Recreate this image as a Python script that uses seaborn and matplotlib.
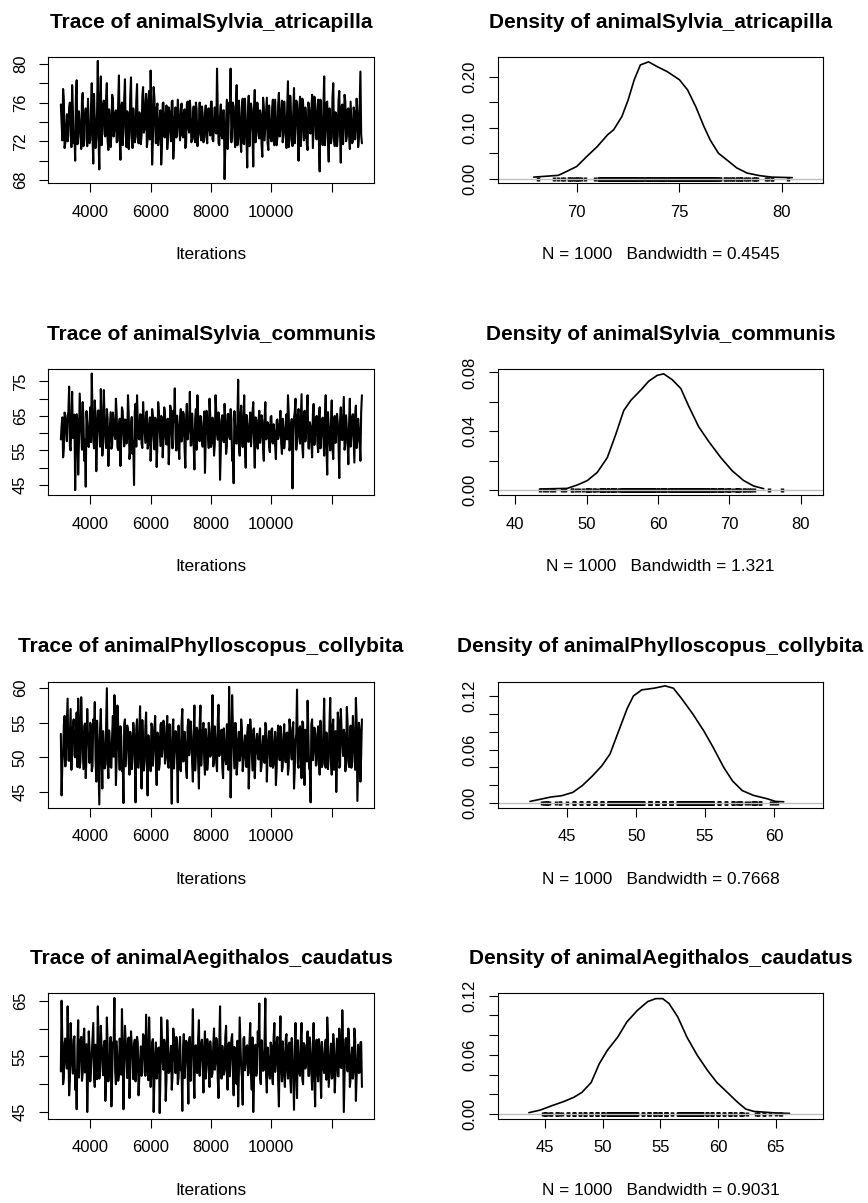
import numpy as np
import pandas as pd
import matplotlib
matplotlib.use("Agg")
import matplotlib.pyplot as plt
import seaborn as sns

# ---- data ----------------------------------------------------------------
species = ["Sylvia_atricapilla", "Sylvia_communis",
           "Phylloscopus_collybita", "Aegithalos_caudatus"]
bandwidths = ["0.4545", "1.321", "0.7668", "0.9031"]
n_samples = 1000

# trace samples read from the band: the outer samples (spikes) at every
# 50th iteration and the core samples half way between them
iterations_outer = list(range(3050, 13001, 50))
iterations_core = list(range(3025, 12976, 50))

outer_atricapilla = [
    74.0, 77.4, 71.3, 73.4, 72.0, 75.5, 74.2, 77.8, 71.8, 70.0,
    78.3, 72.4, 73.8, 71.2, 77.0, 74.5, 75.4, 71.5, 73.1, 72.1,
    78.0, 69.7, 74.1, 72.3, 80.3, 69.1, 78.7, 73.6, 76.2, 72.5,
    78.0, 71.1, 74.4, 72.7, 76.4, 73.2, 75.2, 72.0, 78.8, 70.1,
    76.0, 73.5, 78.4, 71.4, 74.7, 72.9, 78.6, 71.3, 73.9, 72.4,
    77.9, 71.8, 74.6, 72.6, 77.6, 73.3, 76.9, 72.2, 77.2, 79.3,
    69.6, 77.6, 73.7, 75.4, 71.6, 74.2, 69.6, 75.9, 72.5, 74.8,
    71.2, 75.5, 73.1, 76.1, 70.2, 74.4, 72.4, 76.3, 73.5, 75.2,
    72.6, 74.9, 71.3, 75.8, 73.4, 76.2, 71.9, 74.3, 72.3, 76.0,
    71.5, 73.8, 72.7, 75.6, 71.9, 74.6, 72.4, 75.3, 73.2, 76.1,
    72.2, 74.1, 73.0, 79.5, 71.8, 74.7, 72.6, 75.2, 68.1, 74.0,
    71.2, 76.0, 79.5, 73.6, 75.6, 71.4, 77.8, 72.3, 74.5, 70.9,
    76.4, 71.7, 74.2, 69.3, 76.7, 73.4, 75.3, 69.4, 77.3, 73.0,
    75.9, 72.3, 74.8, 70.4, 75.6, 73.5, 76.5, 71.1, 74.1, 72.0,
    76.3, 71.6, 74.0, 72.4, 77.0, 73.2, 76.2, 72.7, 74.6, 71.3,
    78.2, 72.1, 74.9, 71.5, 77.5, 73.7, 75.9, 70.0, 76.6, 73.3,
    76.0, 72.3, 74.3, 71.1, 75.5, 72.8, 76.8, 73.9, 75.9, 72.2,
    76.3, 68.9, 74.5, 71.6, 78.7, 73.1, 76.1, 69.9, 74.2, 72.4,
    78.0, 71.5, 74.7, 72.6, 77.2, 69.8, 75.8, 73.6, 76.1, 72.5,
    75.4, 71.2, 73.8, 72.0, 75.0, 73.4, 74.9, 72.3, 79.2, 71.8,
]
core_atricapilla = [
    75.8, 72.1, 76.3, 71.9, 74.8, 72.6, 76.0, 71.4, 75.2, 72.9,
    76.6, 71.7, 75.1, 72.8, 76.2, 71.5, 74.6, 72.3, 76.4, 71.8,
    75.5, 72.6, 76.9, 71.3, 75.0, 72.2, 76.1, 71.6, 75.7, 72.7,
    76.5, 72.0, 75.3, 71.4, 76.8, 72.5, 74.9, 71.9, 76.0, 72.3,
    75.6, 71.6, 76.4, 72.8, 75.1, 71.2, 76.7, 72.4, 75.4, 71.9,
    76.2, 72.5, 75.0, 71.7, 76.6, 72.9, 75.8, 71.4, 76.3, 72.2,
    75.3, 72.0, 76.5, 71.8, 75.9, 72.7, 75.2, 71.5, 76.0, 72.4,
    75.7, 72.3, 75.1, 72.0, 76.2, 71.7, 75.5, 72.6, 74.9, 72.1,
    75.9, 72.4, 75.3, 71.8, 76.1, 72.9, 75.0, 72.2, 75.6, 71.9,
    75.2, 72.7, 76.0, 72.1, 74.8, 72.5, 75.7, 71.8, 75.4, 72.6,
    76.1, 72.0, 75.5, 72.8, 74.9, 71.6, 75.8, 72.3, 75.2, 71.7,
    76.3, 72.5, 75.0, 71.9, 76.0, 72.7, 75.4, 71.6, 76.2, 72.2,
    75.6, 71.8, 76.4, 72.4, 75.1, 71.5, 75.9, 72.8, 75.3, 71.9,
    76.0, 72.6, 75.2, 71.7, 76.5, 72.1, 75.0, 71.8, 75.7, 72.4,
    75.4, 72.0, 76.3, 71.6, 75.8, 72.5, 75.1, 71.9, 76.1, 72.7,
    75.6, 71.4, 76.7, 72.3, 75.0, 71.8, 76.2, 72.6, 75.3, 71.5,
    76.4, 72.1, 75.5, 71.7, 76.0, 72.9, 75.2, 71.3, 76.6, 72.4,
    75.1, 71.9, 76.3, 72.5, 75.7, 71.6, 76.0, 72.2, 75.4, 71.8,
    76.5, 72.3, 75.0, 71.5, 76.2, 72.8, 75.6, 71.7, 76.8, 72.0,
    75.3, 72.6, 76.1, 71.8, 75.5, 72.2, 76.4, 71.4, 75.9, 72.7,
]

outer_communis = [
    62.0, 53.0, 66.0, 60.5, 64.5, 73.5, 55.0, 72.0, 59.5, 43.5,
    65.5, 48.0, 71.5, 61.0, 69.0, 52.0, 44.5, 62.5, 56.0, 67.5,
    77.3, 58.5, 69.5, 49.0, 66.5, 61.5, 72.8, 53.5, 72.5, 59.0,
    67.0, 50.5, 62.0, 55.5, 66.0, 59.5, 70.0, 56.0, 61.5, 50.5,
    67.5, 60.0, 64.0, 57.0, 71.0, 52.5, 62.5, 54.0, 45.0, 68.5,
    71.0, 58.5, 65.5, 57.0, 69.0, 60.5, 66.0, 55.5, 62.0, 52.0,
    67.0, 59.0, 64.5, 50.2, 69.0, 61.0, 65.0, 53.0, 67.5, 58.5,
    64.0, 51.0, 68.0, 60.0, 66.5, 73.0, 55.0, 62.5, 52.5, 67.0,
    59.5, 65.5, 50.0, 68.5, 61.0, 72.0, 56.5, 60.5, 49.5, 67.0,
    71.0, 58.0, 65.0, 57.5, 62.0, 48.5, 66.5, 59.5, 70.0, 56.0,
    64.5, 53.5, 71.0, 60.0, 66.0, 46.5, 63.5, 58.5, 68.5, 54.0,
    65.5, 59.5, 67.0, 52.0, 45.5, 62.0, 57.0, 75.5, 53.5, 68.0,
    56.0, 71.0, 50.0, 62.5, 57.5, 66.0, 60.0, 69.0, 50.0, 64.0,
    55.5, 66.5, 59.0, 63.5, 52.0, 69.0, 58.5, 62.5, 54.5, 65.0,
    57.0, 60.5, 52.5, 64.0, 59.5, 66.5, 54.0, 61.0, 58.0, 65.5,
    71.0, 55.0, 62.0, 44.0, 64.5, 70.0, 58.5, 67.0, 57.0, 71.3,
    53.0, 66.5, 60.0, 71.0, 55.5, 62.0, 53.0, 68.5, 59.5, 65.0,
    54.5, 67.5, 59.0, 64.5, 53.5, 71.0, 48.0, 62.0, 55.0, 69.5,
    52.5, 65.0, 60.5, 63.0, 47.0, 67.5, 58.0, 70.5, 57.0, 61.5,
    51.0, 70.0, 59.0, 65.5, 51.5, 68.0, 58.0, 61.0, 52.0, 71.0,
]
core_communis = [
    58.2, 64.6, 55.4, 65.1, 57.7, 66.3, 56.2, 64.1, 58.6, 65.4,
    56.3, 63.7, 57.1, 66.2, 55.2, 64.4, 58.1, 66.4, 56.7, 63.2,
    57.4, 65.7, 55.6, 64.2, 58.4, 66.6, 56.1, 65.2, 57.2, 63.6,
    55.7, 64.3, 57.6, 66.1, 56.4, 63.1, 58.3, 65.6, 55.1, 64.2,
    57.3, 66.4, 56.2, 63.8, 58.7, 65.1, 55.4, 64.7, 57.6, 66.2,
    56.1, 63.3, 58.2, 65.4, 55.7, 64.1, 57.2, 66.3, 56.6, 64.6,
    58.4, 65.2, 55.3, 63.7, 57.4, 66.1, 56.3, 64.4, 58.1, 65.7,
    56.7, 64.2, 57.3, 66.4, 55.6, 63.2, 58.6, 65.1, 56.2, 64.7,
    57.6, 66.2, 55.4, 64.3, 58.2, 63.4, 56.4, 65.7, 57.2, 64.1,
    55.2, 65.1, 57.7, 63.3, 56.1, 66.3, 58.4, 64.6, 55.7, 65.3,
    57.2, 63.6, 56.6, 66.2, 58.1, 64.2, 55.6, 65.2, 57.4, 63.2,
    56.2, 65.6, 58.3, 64.4, 55.3, 66.4, 57.1, 63.7, 56.4, 65.1,
    58.1, 64.2, 55.7, 65.3, 57.6, 63.1, 56.2, 66.1, 58.4, 64.6,
    56.6, 63.6, 57.2, 65.2, 55.4, 64.1, 58.2, 63.2, 56.1, 64.7,
    57.7, 62.6, 56.2, 63.7, 58.3, 62.2, 57.1, 64.2, 55.6, 63.1,
    58.2, 65.7, 56.4, 64.1, 57.2, 66.2, 55.2, 65.1, 58.6, 63.7,
    56.1, 64.6, 57.6, 66.3, 55.7, 63.2, 58.1, 65.4, 56.6, 64.2,
    57.1, 65.2, 55.6, 63.7, 58.4, 64.6, 56.2, 66.1, 57.7, 63.1,
    55.6, 64.1, 57.2, 65.6, 56.7, 63.6, 58.2, 64.7, 55.2, 65.2,
    57.6, 63.2, 56.1, 64.6, 58.6, 65.4, 55.7, 64.2, 57.1, 66.1,
]

outer_collybita = [
    44.5, 50.5, 56.0, 51.5, 58.5, 49.5, 57.0, 52.5, 55.5, 50.0,
    56.5, 58.5, 48.5, 58.7, 51.0, 54.5, 47.0, 57.0, 52.0, 55.0,
    48.0, 55.5, 58.0, 46.5, 52.5, 43.2, 57.0, 45.5, 51.5, 49.0,
    60.0, 47.0, 52.0, 48.5, 56.0, 59.0, 46.0, 57.5, 51.0, 54.5,
    48.0, 43.4, 55.5, 51.5, 54.0, 47.5, 52.5, 50.0, 53.5, 43.5,
    55.5, 48.5, 57.4, 45.5, 52.0, 49.5, 56.5, 44.5, 51.5, 48.0,
    54.5, 51.0, 56.0, 46.0, 53.0, 49.0, 55.0, 51.5, 54.5, 50.0,
    56.0, 48.5, 52.5, 43.3, 55.5, 51.0, 53.5, 43.5, 52.0, 48.0,
    57.0, 49.5, 52.0, 47.0, 55.5, 51.5, 53.0, 46.5, 57.5, 50.5,
    54.0, 45.5, 57.5, 51.0, 55.0, 47.5, 52.5, 49.5, 54.0, 50.5,
    59.0, 49.5, 52.5, 48.0, 57.6, 51.0, 54.0, 47.0, 52.0, 49.0,
    54.5, 60.2, 44.2, 59.0, 51.5, 55.0, 47.5, 52.5, 49.5, 55.5,
    48.0, 52.0, 50.0, 53.5, 45.5, 55.5, 51.0, 54.0, 47.0, 52.5,
    50.5, 53.0, 48.0, 51.5, 49.5, 55.0, 46.5, 52.5, 50.0, 54.0,
    48.5, 52.0, 46.0, 53.0, 51.0, 54.5, 48.0, 52.5, 50.0, 53.5,
    47.5, 55.5, 51.0, 54.0, 45.5, 52.5, 59.8, 48.5, 54.5, 47.0,
    55.0, 46.0, 52.0, 58.2, 48.5, 43.5, 55.5, 51.0, 53.5, 49.0,
    54.5, 47.5, 52.5, 49.0, 58.5, 48.5, 51.5, 50.0, 58.6, 47.5,
    55.5, 51.0, 45.0, 56.5, 48.5, 57.0, 52.0, 54.0, 48.0, 57.3,
    49.5, 52.5, 48.5, 56.0, 51.0, 58.6, 43.7, 55.0, 46.5, 55.5,
]
core_collybita = [
    53.4, 49.1, 54.6, 48.7, 55.1, 49.6, 53.2, 48.2, 54.3, 50.3,
    53.7, 48.6, 55.4, 49.4, 54.1, 48.3, 54.9, 50.2, 53.1, 49.2,
    54.4, 48.8, 53.6, 49.7, 55.3, 48.1, 54.2, 50.4, 53.8, 48.4,
    54.8, 49.3, 53.9, 48.6, 53.3, 50.1, 55.2, 49.8, 54.7, 48.2,
    53.1, 49.4, 54.9, 48.7, 54.6, 49.2, 53.7, 48.3, 55.0, 50.2,
    54.2, 48.6, 53.4, 49.8, 55.4, 48.1, 54.4, 49.3, 53.2, 50.4,
    54.9, 48.8, 54.1, 49.6, 53.6, 48.2, 54.7, 50.1, 55.3, 49.1,
    53.3, 48.7, 54.8, 49.2, 54.2, 48.4, 53.8, 49.7, 54.6, 48.6,
    55.1, 49.4, 53.7, 48.3, 54.4, 50.3, 55.2, 49.1, 53.2, 48.1,
    54.3, 49.2, 54.9, 48.8, 53.6, 49.6, 54.1, 48.2, 55.0, 50.1,
    53.6, 48.7, 54.5, 49.3, 55.3, 50.2, 53.1, 48.6, 54.2, 49.7,
    54.8, 48.2, 53.3, 49.8, 54.6, 48.4, 54.9, 49.1, 53.7, 50.4,
    54.1, 49.3, 53.2, 48.6, 54.7, 49.4, 53.6, 48.1, 54.2, 50.2,
    53.4, 49.7, 54.2, 48.8, 53.1, 49.2, 54.4, 50.3, 53.8, 48.7,
    54.2, 49.1, 53.7, 48.3, 54.6, 49.6, 53.3, 48.6, 54.8, 49.3,
    53.6, 48.6, 54.3, 49.7, 55.1, 48.2, 53.4, 49.2, 54.1, 50.1,
    55.2, 48.7, 54.0, 49.4, 53.7, 48.1, 54.8, 49.6, 54.3, 48.8,
    53.2, 49.8, 55.3, 48.6, 54.2, 49.1, 53.6, 48.3, 54.9, 49.4,
    54.4, 48.2, 53.8, 49.6, 55.4, 48.7, 54.1, 50.2, 53.3, 49.1,
    54.9, 48.6, 54.6, 49.3, 53.5, 48.2, 55.3, 49.7, 54.0, 50.3,
]

outer_caudatus = [
    65.0, 50.0, 57.5, 54.5, 64.0, 48.0, 61.0, 53.5, 58.0, 49.0,
    45.5, 61.5, 55.0, 58.5, 52.0, 60.0, 54.0, 45.0, 59.5, 50.5,
    55.5, 61.0, 49.5, 56.5, 64.0, 51.0, 60.5, 54.5, 57.0, 47.0,
    62.0, 50.5, 55.0, 46.0, 57.5, 65.5, 50.0, 54.0, 51.5, 56.0,
    63.5, 45.5, 60.5, 54.5, 58.0, 47.5, 59.5, 55.5, 57.0, 50.5,
    58.5, 48.0, 54.0, 51.5, 59.0, 55.0, 62.5, 52.5, 62.0, 49.5,
    57.5, 45.0, 55.5, 51.0, 56.5, 44.8, 62.0, 54.0, 58.0, 47.0,
    61.5, 52.0, 55.0, 49.0, 60.0, 54.5, 58.5, 50.0, 56.0, 52.5,
    45.2, 59.0, 54.0, 57.5, 46.5, 58.5, 55.5, 63.5, 47.5, 57.0,
    52.0, 61.5, 54.5, 58.0, 48.5, 59.5, 53.5, 57.0, 49.5, 55.5,
    52.0, 60.0, 54.0, 57.5, 47.5, 64.0, 51.0, 55.0, 52.5, 60.5,
    49.0, 57.5, 54.5, 59.0, 48.0, 55.5, 50.0, 46.0, 62.0, 53.0,
    46.3, 58.5, 54.0, 57.0, 52.0, 61.0, 49.0, 45.0, 55.5, 51.5,
    59.5, 64.5, 50.0, 55.0, 52.5, 65.4, 48.5, 54.5, 51.0, 57.0,
    50.0, 61.0, 54.0, 58.5, 46.0, 62.2, 50.5, 55.5, 49.5, 59.0,
    51.0, 57.5, 48.5, 54.5, 45.4, 61.0, 47.5, 55.0, 51.5, 61.0,
    50.0, 57.0, 53.5, 59.5, 51.5, 55.5, 49.0, 61.0, 46.0, 58.0,
    50.5, 57.0, 47.5, 55.0, 52.0, 58.0, 62.0, 49.5, 54.5, 51.0,
    59.0, 48.5, 55.5, 51.5, 60.0, 53.0, 63.3, 45.0, 58.0, 54.0,
    60.0, 49.5, 55.0, 51.0, 60.0, 47.0, 54.5, 52.0, 57.5, 49.5,
]
core_caudatus = [
    52.3, 57.6, 51.1, 58.2, 52.8, 56.9, 50.7, 57.4, 51.9, 58.6,
    52.4, 56.8, 51.2, 57.9, 50.6, 58.3, 52.1, 57.2, 51.4, 56.6,
    52.7, 58.4, 51.3, 57.1, 50.9, 58.1, 52.2, 56.7, 51.6, 57.8,
    50.8, 57.3, 52.6, 58.5, 51.2, 56.9, 52.4, 57.7, 50.6, 58.2,
    51.7, 56.6, 52.9, 57.6, 51.1, 58.4, 52.3, 57.0, 50.9, 58.0,
    52.5, 57.4, 51.3, 56.8, 52.1, 58.6, 51.5, 57.3, 50.7, 56.7,
    52.2, 58.1, 51.0, 57.5, 52.8, 56.6, 51.4, 58.3, 52.6, 57.1,
    50.8, 57.9, 52.3, 56.9, 51.6, 58.2, 52.0, 57.6, 51.2, 58.5,
    52.4, 56.7, 51.1, 57.8, 52.7, 58.0, 50.6, 57.2, 51.8, 56.8,
    52.1, 58.4, 51.5, 57.3, 52.9, 56.6, 51.0, 58.1, 52.5, 57.7,
    51.3, 57.0, 52.6, 58.3, 50.9, 57.5, 52.2, 56.9, 51.7, 58.6,
    52.0, 57.2, 51.4, 58.0, 52.8, 56.7, 50.7, 57.8, 52.3, 57.4,
    51.1, 58.2, 52.5, 56.8, 51.6, 57.6, 52.1, 58.4, 50.8, 57.1,
    52.7, 56.9, 51.2, 57.9, 52.4, 58.1, 51.5, 56.6, 52.0, 57.5,
    51.4, 58.5, 52.2, 57.3, 50.6, 56.8, 52.9, 57.7, 51.3, 58.2,
    52.6, 57.0, 51.0, 58.3, 52.3, 56.7, 51.7, 57.9, 52.1, 58.0,
    50.9, 57.4, 52.8, 56.9, 51.5, 58.4, 52.4, 57.2, 51.1, 56.6,
    52.2, 58.1, 51.6, 57.6, 52.7, 56.8, 50.8, 58.5, 52.0, 57.3,
    51.2, 56.7, 52.5, 58.2, 51.4, 57.5, 52.9, 56.9, 51.8, 58.3,
    52.3, 57.8, 51.0, 56.6, 52.6, 58.0, 51.5, 57.1, 52.1, 57.6,
]

# density curves (x, density)
dens_x_atricapilla = [67.9, 69.1, 69.5, 70.0, 70.5, 71.0, 71.5, 71.8, 72.2, 72.5,
                      72.8, 73.1, 73.5, 73.9, 74.4, 75.0, 75.4, 75.8, 76.2, 76.5,
                      76.9, 77.4, 77.8, 78.3, 78.9, 79.5, 80.5]
dens_y_atricapilla = [0.003, 0.0065, 0.014, 0.024, 0.044, 0.063, 0.086, 0.096, 0.122, 0.154,
                      0.194, 0.223, 0.229, 0.220, 0.210, 0.194, 0.174, 0.141, 0.102, 0.076,
                      0.050, 0.034, 0.021, 0.011, 0.006, 0.003, 0.002]

dens_x_communis = [43.5, 47.3, 48.7, 50.1, 51.5, 52.9, 54.1, 55.2, 56.2, 57.6,
                   58.7, 59.9, 60.8, 62.0, 63.2, 64.3, 65.7, 67.1, 68.8, 70.4,
                   72.0, 73.4, 74.8]
dens_y_communis = [0.0007, 0.0011, 0.0034, 0.0064, 0.012, 0.022, 0.038, 0.054, 0.061, 0.068,
                   0.074, 0.078, 0.079, 0.075, 0.069, 0.057, 0.043, 0.033, 0.022, 0.013,
                   0.0064, 0.0027, 0.0009]

dens_x_collybita = [42.3, 43.1, 43.8, 44.6, 45.4, 46.1, 46.8, 47.5, 48.1, 48.7,
                    49.35, 49.8, 50.4, 51.3, 52.1, 52.7, 53.3, 54.1, 54.9, 55.6,
                    56.35, 57.0, 57.7, 58.5, 59.5, 60.1, 60.7]
dens_y_collybita = [0.0019, 0.0045, 0.0068, 0.0083, 0.012, 0.0197, 0.030, 0.0416, 0.0549, 0.0795,
                    0.106, 0.120, 0.1268, 0.1287, 0.1313, 0.1287, 0.117, 0.100, 0.081, 0.062,
                    0.040, 0.0246, 0.014, 0.0087, 0.0049, 0.0019, 0.0015]

dens_x_caudatus = [43.6, 44.6, 45.6, 46.6, 47.5, 48.2, 49.0, 49.7, 50.4, 51.3,
                   52.1, 53.0, 53.9, 54.6, 55.2, 55.75, 56.5, 57.3, 58.2, 59.1,
                   59.9, 60.8, 61.7, 62.4, 63.1, 64.3, 65.1, 66.2]
dens_y_caudatus = [0.0014, 0.0041, 0.0085, 0.0126, 0.017, 0.022, 0.032, 0.051, 0.0646, 0.078,
                   0.0935, 0.105, 0.114, 0.117, 0.117, 0.112, 0.0986, 0.078, 0.0595, 0.044,
                   0.032, 0.022, 0.0119, 0.0051, 0.0027, 0.0017, 0.001, 0.0007]

outers = [outer_atricapilla, outer_communis, outer_collybita, outer_caudatus]
cores = [core_atricapilla, core_communis, core_collybita, core_caudatus]
dens_x = [dens_x_atricapilla, dens_x_communis, dens_x_collybita, dens_x_caudatus]
dens_y = [dens_y_atricapilla, dens_y_communis, dens_y_collybita, dens_y_caudatus]

# axis settings per row
trace_ylim = [(67.7, 80.7), (42.1, 78.6), (42.76, 60.97), (43.8, 66.44)]
trace_yticks = [np.arange(68, 81, 2), np.arange(45, 76, 5), np.arange(45, 61, 5), np.arange(45, 66, 5)]
trace_ylabels = [[68, 72, 76, 80], [45, 55, 65, 75], [45, 50, 55, 60], [45, 55, 65]]

dens_xlim = [(66.16, 82.0), (37.6, 83.1), (39.98, 63.55), (40.92, 69.1)]
dens_xticks = [[70, 75, 80], [40, 50, 60, 70, 80], [45, 50, 55, 60], [45, 50, 55, 60, 65]]
dens_ylim = [(-0.0085, 0.2385), (-0.0034, 0.0823), (-0.0049, 0.1362), (-0.0047, 0.123)]
dens_yticks = [np.arange(0, 0.201, 0.05), np.arange(0, 0.081, 0.02),
               np.arange(0, 0.121, 0.02), np.arange(0, 0.121, 0.02)]
dens_ylabels = [["0.00", "0.10", "0.20"], ["0.00", "0.04", "0.08"],
                ["0.00", "0.06", "0.12"], ["0.00", "0.06", "0.12"]]

# ---- drawing --------------------------------------------------------------
sns.set_theme(style="white")
plt.rcParams["font.family"] = ["Liberation Sans", "DejaVu Sans"]
plt.rcParams["text.color"] = "black"
plt.rcParams["axes.labelcolor"] = "black"
plt.rcParams["xtick.color"] = "black"
plt.rcParams["ytick.color"] = "black"

W, H = 868, 1203
fig = plt.figure(figsize=(W / 100, H / 100), dpi=100)
fig.patch.set_facecolor("white")

row_tops = [57, 369, 681.5, 992.7]
box_h = 126


def style_axes(ax):
    for s in ax.spines.values():
        s.set_visible(True)
        s.set_color("black")
        s.set_linewidth(0.8)
    ax.set_facecolor("white")
    ax.tick_params(axis="both", which="both", direction="out", length=6.5, width=0.8,
                   colors="black", labelsize=12, bottom=True, left=True, top=False, right=False)
    ax.tick_params(axis="x", pad=9)
    ax.tick_params(axis="y", pad=8)


def fmt_labels(ticks, shown, fmt):
    out = []
    for t in ticks:
        hit = [s for s in shown if abs(float(s) - t) < 1e-9]
        out.append(fmt(t) if hit else "")
    return out


for r in range(4):
    bottom = 1 - (row_tops[r] + box_h) / H
    df = pd.DataFrame({"Iterations": iterations_outer + iterations_core,
                       "value": outers[r] + cores[r]}).sort_values("Iterations")

    # trace panel
    ax = fig.add_axes([48 / W, bottom, 326 / W, box_h / H])
    sns.lineplot(data=df, x="Iterations", y="value", ax=ax, color="black",
                 linewidth=1.5, estimator=None, sort=False)
    ax.set_xlim(2600, 13400)
    ax.set_ylim(*trace_ylim[r])
    ax.set_xticks([4000, 6000, 8000, 10000, 12000])
    ax.set_xticklabels(["4000", "6000", "8000", "10000", ""])
    yt = trace_yticks[r]
    ax.set_yticks(yt)
    ax.set_yticklabels(fmt_labels(yt, trace_ylabels[r], lambda v: f"{v:.0f}"),
                       rotation=90, va="center")
    style_axes(ax)
    ax.set_xlabel("Iterations", fontsize=12.4, labelpad=20)
    ax.set_ylabel("")
    ax.set_title(f"Trace of animal{species[r]}", fontsize=15, fontweight="bold", pad=21)

    # density panel
    ax = fig.add_axes([498 / W, bottom, 325 / W, box_h / H])
    dd = pd.DataFrame({"x": dens_x[r], "y": dens_y[r]})
    sns.lineplot(data=dd, x="x", y="y", ax=ax, color="black", linewidth=1.2,
                 estimator=None, sort=False)
    ax.axhline(0, color="#bebebe", linewidth=1.0)
    rug = df.assign(z=0.0)
    sns.scatterplot(data=rug, x="value", y="z", ax=ax, marker="|", s=10, color="black",
                    edgecolor="black", linewidth=2.5)
    ax.set_xlim(*dens_xlim[r])
    ax.set_ylim(*dens_ylim[r])
    ax.set_xticks(dens_xticks[r])
    ax.set_xticklabels([str(v) for v in dens_xticks[r]])
    yt = dens_yticks[r]
    ax.set_yticks(yt)
    ax.set_yticklabels(fmt_labels(yt, dens_ylabels[r], lambda v: f"{v:.2f}"),
                       rotation=90, va="center")
    style_axes(ax)
    ax.set_xlabel(f"N = {n_samples}   Bandwidth = {bandwidths[r]}", fontsize=12.4, labelpad=20)
    ax.set_ylabel("")
    ax.set_title(f"Density of animal{species[r]}", fontsize=15, fontweight="bold", pad=21)

fig.savefig("out.png", dpi=100, facecolor="white")
